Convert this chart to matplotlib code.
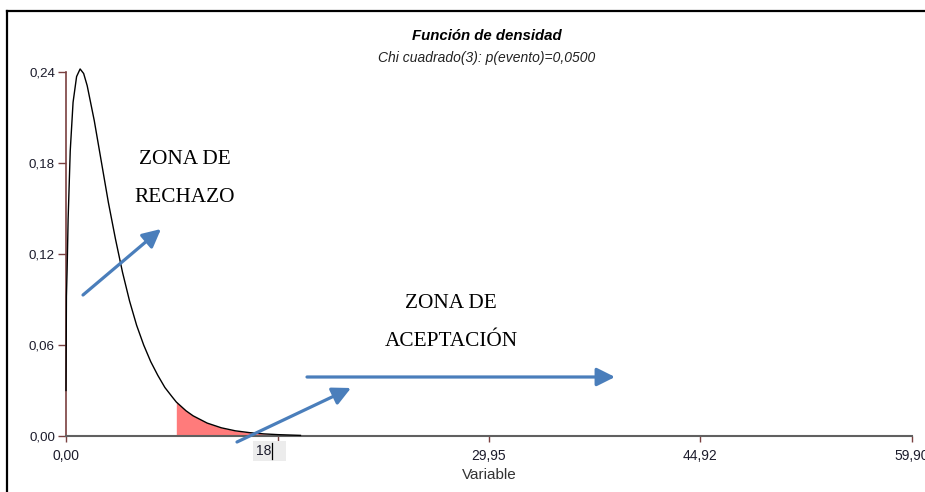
import matplotlib.pyplot as plt
from matplotlib.lines import Line2D
from matplotlib.patches import FancyArrowPatch

# densidad chi cuadrado(3)
x = [0.0, 0.03, 0.08, 0.15, 0.3, 0.5, 0.75, 1.0, 1.25, 1.5, 2.0, 2.5, 3.0, 3.5,
     4.0, 4.5, 5.0, 5.5, 6.0, 6.5, 7.0, 7.5, 7.81, 8.5, 9.0, 10.0, 11.0, 12.0,
     13.0, 14.0, 15.0, 16.6]
dens = [0.030, 0.092, 0.110, 0.143, 0.188, 0.220, 0.237, 0.242, 0.239, 0.231,
        0.208, 0.181, 0.154, 0.130, 0.108, 0.089, 0.073, 0.060, 0.049, 0.040,
        0.032, 0.026, 0.0224, 0.0166, 0.0133, 0.0085, 0.0054, 0.0034, 0.0022,
        0.0014, 0.0009, 0.0004]
x_crit = 7.81
x_max = 59.90

xticks = [0.0, 14.975, 29.95, 44.925, 59.90]
xtick_labels = ["0,00", "", "29,95", "44,92", "59,90"]
yticks = [0.0, 0.06, 0.12, 0.18, 0.24]
ytick_labels = ["0,00", "0,06", "0,12", "0,18", "0,24"]

brown = "#7a4040"
blue = "#4a7ebb"
txtcol = "#1c1c2c"

fig = plt.figure(figsize=(9.25, 4.92), dpi=100)
ax = fig.add_axes([66/925, 1-436/492, (912-66)/925, (436-72)/492])

# zona sombreada (rechazo)
xs = [v for v in x if v >= x_crit]
ys = [d for v, d in zip(x, dens) if v >= x_crit]
ax.fill_between(xs, 0, ys, color="#ff7b7b", lw=0)
ax.plot(x, dens, color="black", lw=1.0, clip_on=False, zorder=3)
ax.plot([0, x[-1]], [0, 0], color=brown, lw=1.2, zorder=2, clip_on=False)

ax.set_xlim(0, x_max)
ax.set_ylim(0, 0.24)
for s in ["top", "right"]:
    ax.spines[s].set_visible(False)
ax.spines["left"].set_color(brown)
ax.spines["left"].set_linewidth(1.2)
ax.spines["bottom"].set_color("#606060")
ax.spines["bottom"].set_linewidth(1.5)

ax.set_xticks(xticks)
ax.set_xticklabels(xtick_labels)
ax.set_yticks(yticks)
ax.set_yticklabels(ytick_labels)
ax.tick_params(axis="y", colors=brown, length=6, width=1, pad=2, labelsize=9.6,
               labelcolor=txtcol)
ax.tick_params(axis="x", colors=brown, length=4, width=1, pad=5, labelsize=10,
               labelcolor=txtcol)
for lab in ax.get_xticklabels() + ax.get_yticklabels():
    lab.set_family("Liberation Sans")

# etiqueta editada "18" con cursor
ax.text(13.45, -0.0098, "18   ", ha="left", va="center", fontsize=10,
        family="Liberation Sans", color=txtcol, zorder=4,
        bbox=dict(boxstyle="square,pad=0.2", fc="#ececec", ec="none"))
ax.plot([14.6, 14.6], [-0.0045, -0.0150], color="black", lw=0.9, clip_on=False,
        zorder=6)

ax.set_xlabel("Variable", fontsize=11, family="Liberation Sans", color="#333333",
              labelpad=4)

fig.text(487/925, 1-36/492, "Función de densidad", ha="center", va="center",
         fontsize=10.8, fontweight="bold", style="italic", family="Liberation Sans")
fig.text(487/925, 1-58/492, "Chi cuadrado(3): p(evento)=0,0500", ha="center",
         va="center", fontsize=10, style="italic", family="Liberation Sans",
         color="#222222")

# textos de zonas
ser = dict(ha="center", va="center", fontsize=15.3, family="Liberation Serif",
           color="black")
fig.text(185/925, 1-160/492, "ZONA DE", **ser)
fig.text(185/925, 1-197/492, "RECHAZO", **ser)
fig.text(451/925, 1-303/492, "ZONA DE", **ser)
fig.text(451/925, 1-341/492, "ACEPTACIÓN", **ser)

# flechas
arrows = [((83, 295), (161, 229)), ((237, 442), (351, 388)), ((307, 377), (615, 377))]
for (x0, y0), (x1, y1) in arrows:
    fig.add_artist(FancyArrowPatch(
        (x0/925, 1-y0/492), (x1/925, 1-y1/492), transform=fig.transFigure,
        arrowstyle="-|>,head_length=11,head_width=5.5", color=blue, lw=2.3,
        mutation_scale=1, shrinkA=0, shrinkB=0))

# marco de la imagen
fig.add_artist(Line2D([7/925, 1], [1-11/492, 1-11/492], color="black", lw=1.6,
                      transform=fig.transFigure))
fig.add_artist(Line2D([7/925, 7/925], [0, 1-11/492], color="black", lw=1.6,
                      transform=fig.transFigure))

fig.savefig("out.png", dpi=100)
